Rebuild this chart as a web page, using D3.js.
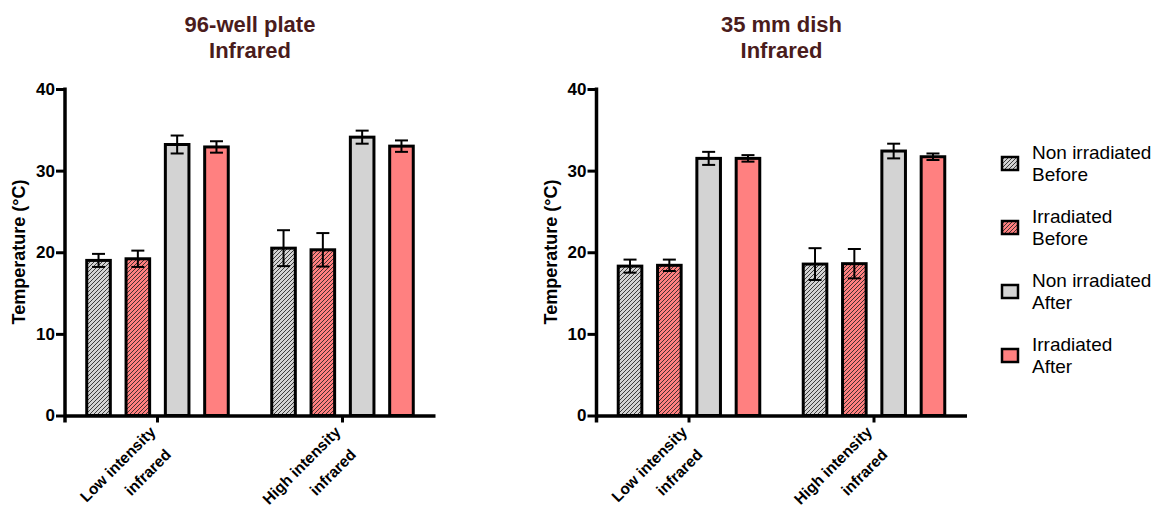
<!DOCTYPE html>
<html>
<head>
<meta charset="utf-8">
<script src="https://cdn.jsdelivr.net/npm/d3@7/dist/d3.min.js"></script>
<style>
  html, body { margin: 0; padding: 0; background: #fff; }
  svg { display: block; font-family: "Liberation Sans", Arial, sans-serif; }
</style>
</head>
<body>
<svg id="chart" width="1155" height="507"></svg>
<script>
// ---------- data ----------
const categories = [["Low intensity", "infrared"], ["High intensity", "infrared"]];
const seriesNames = [["Non irradiated", "Before"], ["Irradiated", "Before"], ["Non irradiated", "After"], ["Irradiated", "After"]];
const yTicks = [0, 10, 20, 30, 40];
const titlePlate = ["96-well plate", "Infrared"];
const titleDish = ["35 mm dish", "Infrared"];
// mean per category (rows) and series (columns)
const plateMean = [[19.0, 19.2, 33.2, 32.9], [20.5, 20.3, 34.1, 33.0]];
const plateErr  = [[0.8, 1.0, 1.1, 0.7], [2.2, 2.05, 0.8, 0.7]];
const dishMean  = [[18.3, 18.4, 31.5, 31.5], [18.55, 18.6, 32.4, 31.7]];
const dishErr   = [[0.8, 0.7, 0.8, 0.4], [1.95, 1.8, 0.9, 0.4]];

// ---------- style ----------
const fills = ["url(#hatchGray)", "url(#hatchPink)", "#d3d3d3", "#ff8080"];
const titleColor = "#4a1c1c";

const svg = d3.select("#chart");
const defs = svg.append("defs");
function hatch(id, bg) {
  const p = defs.append("pattern").attr("id", id).attr("patternUnits", "userSpaceOnUse")
    .attr("width", 4).attr("height", 4);
  p.append("rect").attr("width", 4).attr("height", 4).attr("fill", bg);
  p.append("path").attr("d", "M-1,1 l2,-2 M0,4 l4,-4 M3,5 l2,-2")
    .attr("stroke", "#222").attr("stroke-width", 0.85);
}
hatch("hatchGray", "#d3d3d3");
hatch("hatchPink", "#ff8080");

const y = d3.scaleLinear().domain([0, 40]).range([415.5, 89]);

const panels = [
  { title: titlePlate, x0: 65, mean: plateMean, err: plateErr },
  { title: titleDish, x0: 596.5, mean: dishMean, err: dishErr }
];

panels.forEach(p => {
  const g = svg.append("g");
  const xg = d3.scaleBand().domain(d3.range(categories.length)).range([p.x0, p.x0 + 370])
    .paddingInner(0.15).paddingOuter(0.075);
  const xs = d3.scaleBand().domain(d3.range(seriesNames.length)).range([0, xg.bandwidth()])
    .paddingInner(0.4).paddingOuter(0.2);

  // title
  const cx = p.x0 + 185;
  g.append("text").attr("x", cx).attr("y", 32).attr("text-anchor", "middle")
    .attr("font-size", 22).attr("font-weight", "bold").attr("fill", titleColor).text(p.title[0]);
  g.append("text").attr("x", cx).attr("y", 58).attr("text-anchor", "middle")
    .attr("font-size", 22).attr("font-weight", "bold").attr("fill", titleColor).text(p.title[1]);

  // bars
  const data = [];
  categories.forEach((c, ci) => seriesNames.forEach((s, si) => data.push({ ci, si, v: p.mean[ci][si], e: p.err[ci][si] })));
  g.selectAll("rect.bar").data(data).join("rect").attr("class", "bar")
    .attr("x", d => xg(d.ci) + xs(d.si))
    .attr("width", xs.bandwidth())
    .attr("y", d => y(d.v))
    .attr("height", d => y(0) - y(d.v))
    .attr("fill", d => fills[d.si])
    .attr("stroke", "#000").attr("stroke-width", 3);

  // error bars
  const eb = g.selectAll("g.err").data(data).join("g").attr("class", "err")
    .attr("transform", d => `translate(${xg(d.ci) + xs(d.si) + xs.bandwidth() / 2},0)`);
  eb.append("line").attr("y1", d => y(d.v - d.e)).attr("y2", d => y(d.v + d.e))
    .attr("stroke", "#000").attr("stroke-width", 2);
  eb.append("line").attr("x1", -6.5).attr("x2", 6.5).attr("y1", d => y(d.v + d.e)).attr("y2", d => y(d.v + d.e))
    .attr("stroke", "#000").attr("stroke-width", 2);
  eb.append("line").attr("x1", -6.5).attr("x2", 6.5).attr("y1", d => y(d.v - d.e)).attr("y2", d => y(d.v - d.e))
    .attr("stroke", "#000").attr("stroke-width", 2);

  // y axis
  const ya = g.append("g").attr("transform", `translate(${p.x0},0)`)
    .call(d3.axisLeft(y).tickValues(yTicks).tickSize(9).tickSizeOuter(0).tickPadding(1));
  ya.select(".domain").remove();
  ya.selectAll(".tick line").attr("stroke", "#000").attr("stroke-width", 3);
  ya.selectAll(".tick text").attr("font-size", 17).attr("font-weight", "bold").attr("fill", "#000")
    .attr("font-family", "Liberation Sans, Arial, sans-serif");
  g.append("line").attr("x1", p.x0).attr("x2", p.x0).attr("y1", y(40) - 1.5).attr("y2", y(0) + 7)
    .attr("stroke", "#000").attr("stroke-width", 3.5);

  // x axis
  const xa = g.append("g").attr("transform", `translate(0,${y(0)})`)
    .call(d3.axisBottom(xg).tickSize(7).tickSizeOuter(0).tickFormat(""));
  xa.select(".domain").attr("stroke", "#000").attr("stroke-width", 3.5);
  xa.selectAll(".tick line").attr("stroke", "#000").attr("stroke-width", 3);

  // category labels (rotated)
  categories.forEach((c, ci) => {
    const tx = xg(ci) + xg.bandwidth() / 2;
    const t = g.append("text").attr("transform", `translate(${tx - 1},433) rotate(-45)`)
      .attr("text-anchor", "end").attr("font-size", 15.5).attr("font-weight", "bold").attr("fill", "#000");
    c.forEach((line, li) => t.append("tspan").attr("x", li * -5).attr("y", li * 27).text(line));
  });

  // y label
  g.append("text").attr("transform", `translate(${p.x0 - 40},252) rotate(-90)`)
    .attr("text-anchor", "middle").attr("font-size", 18).attr("font-weight", "bold").attr("fill", "#000")
    .text("Temperature (°C)");
});

// legend
const lg = svg.append("g").attr("transform", "translate(1002,0)");
const ly = d3.scalePoint().domain(d3.range(seriesNames.length)).range([163.5, 355.5]);
seriesNames.forEach((s, si) => {
  lg.append("rect").attr("x", 0).attr("y", ly(si) - 6.5).attr("width", 16).attr("height", 13)
    .attr("fill", fills[si]).attr("stroke", "#000").attr("stroke-width", 2.5);
  const t = lg.append("text").attr("font-size", 19).attr("fill", "#000");
  s.forEach((line, li) => t.append("tspan").attr("x", 30).attr("y", ly(si) - 4.5 + li * 22).text(line));
});
</script>
</body>
</html>
